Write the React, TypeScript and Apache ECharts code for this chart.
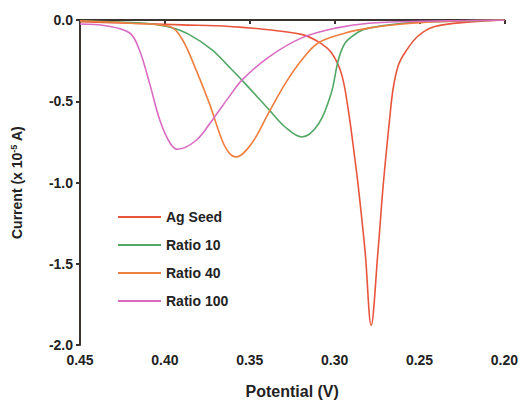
import React, { useEffect, useRef } from "react";
import * as echarts from "echarts";

const seriesNames = ["Ag Seed", "Ratio 10", "Ratio 40", "Ratio 100"];

const agSeedV = [0.45, 0.42, 0.39, 0.362, 0.339, 0.319, 0.3095, 0.302, 0.296, 0.292, 0.288, 0.286, 0.282, 0.2785, 0.2745, 0.2715, 0.2675, 0.2655, 0.2625, 0.2585, 0.251, 0.241, 0.22, 0.2];
const agSeedI = [-0.01, -0.02, -0.03, -0.04, -0.06, -0.09, -0.135, -0.2, -0.33, -0.55, -0.86, -1.03, -1.43, -1.88, -1.43, -1.03, -0.6, -0.42, -0.28, -0.2, -0.1, -0.04, -0.012, 0];

const ratio10V = [0.45, 0.42, 0.41, 0.397, 0.3856, 0.372, 0.362, 0.3546, 0.3388, 0.329, 0.3194, 0.3095, 0.302, 0.2978, 0.2937, 0.286, 0.28, 0.26, 0.24, 0.2];
const ratio10I = [-0.005, -0.015, -0.022, -0.045, -0.09, -0.185, -0.29, -0.37, -0.55, -0.66, -0.72, -0.64, -0.45, -0.246, -0.14, -0.074, -0.05, -0.02, -0.01, 0];

const ratio40V = [0.45, 0.42, 0.397, 0.3897, 0.3815, 0.3739, 0.3663, 0.362, 0.358, 0.3487, 0.3388, 0.329, 0.3194, 0.3095, 0.2937, 0.28, 0.26, 0.24, 0.2];
const ratio40I = [-0.005, -0.02, -0.04, -0.12, -0.31, -0.51, -0.74, -0.82, -0.843, -0.757, -0.57, -0.39, -0.246, -0.14, -0.08, -0.05, -0.025, -0.01, 0];

const ratio100V = [0.45, 0.435, 0.4207, 0.415, 0.409, 0.403, 0.397, 0.3926, 0.3815, 0.372, 0.362, 0.3546, 0.3388, 0.3194, 0.2995, 0.28, 0.25, 0.2];
const ratio100I = [-0.025, -0.035, -0.08, -0.185, -0.39, -0.615, -0.757, -0.795, -0.74, -0.615, -0.47, -0.37, -0.228, -0.11, -0.05, -0.02, -0.008, 0];

const colors = ["#E9553C", "#52A865", "#F07E3E", "#D96BC2"];

const zip = (xs: number[], ys: number[]) => xs.map((x, i) => [x, ys[i]]);

export default function App() {
  const ref = useRef<HTMLDivElement>(null);
  useEffect(() => {
    if (!ref.current) return;
    const chart = echarts.init(ref.current, null, { renderer: "svg" });
    const font = "'Liberation Sans', Arial, sans-serif";
    const datasets = [zip(agSeedV, agSeedI), zip(ratio10V, ratio10I), zip(ratio40V, ratio40I), zip(ratio100V, ratio100I)];
    chart.setOption({
      animation: false,
      backgroundColor: "#ffffff",
      grid: { left: 80, right: 14, top: 20, bottom: 59 },
      legend: {
        orient: "vertical",
        left: 113,
        top: 204,
        itemWidth: 43,
        itemHeight: 2,
        itemGap: 12,
        icon: "rect",
        data: seriesNames,
        textStyle: { fontFamily: font, fontWeight: "bold", fontSize: 14, color: "#222", lineHeight: 16 },
      },
      xAxis: {
        type: "value",
        inverse: true,
        min: 0.2,
        max: 0.45,
        interval: 0.05,
        name: "Potential (V)",
        nameLocation: "middle",
        nameGap: 38,
        nameTextStyle: { fontFamily: font, fontWeight: "bold", fontSize: 16, color: "#222" },
        axisLine: { lineStyle: { color: "#3a3330", width: 2 } },
        axisTick: { show: true, inside: false, length: 4, lineStyle: { color: "#3a3330", width: 2 } },
        axisLabel: { fontFamily: font, fontWeight: "bold", fontSize: 14, color: "#222", margin: 8, formatter: (v: number) => v.toFixed(2) },
        splitLine: { show: false },
      },
      yAxis: {
        type: "value",
        min: -2,
        max: 0,
        interval: 0.5,
        name: "Current (x 10{sup|-5} A)",
        nameLocation: "middle",
        nameGap: 56,
        nameTextStyle: {
          fontFamily: font,
          fontWeight: "bold",
          fontSize: 14,
          color: "#222",
          rich: { sup: { fontFamily: font, fontWeight: "bold", fontSize: 9, color: "#222", verticalAlign: "top", padding: [0, 0, 6, 0] } },
        },
        axisLine: { show: true, lineStyle: { color: "#3a3330", width: 2 } },
        axisTick: { show: true, inside: false, length: 4, lineStyle: { color: "#3a3330", width: 2 } },
        axisLabel: { fontFamily: font, fontWeight: "bold", fontSize: 14, color: "#222", margin: 7, formatter: (v: number) => v.toFixed(1) },
        splitLine: { show: false },
      },
      series: seriesNames.map((name, i) => ({
        name,
        type: "line",
        data: datasets[i],
        smooth: 0.35,
        symbol: "none",
        lineStyle: { color: colors[i], width: 1.6 },
        itemStyle: { color: colors[i] },
      })),
    });
    return () => chart.dispose();
  }, []);
  return <div ref={ref} style={{ width: 521, height: 404, position: "absolute", left: 0, top: 0 }} />;
}
